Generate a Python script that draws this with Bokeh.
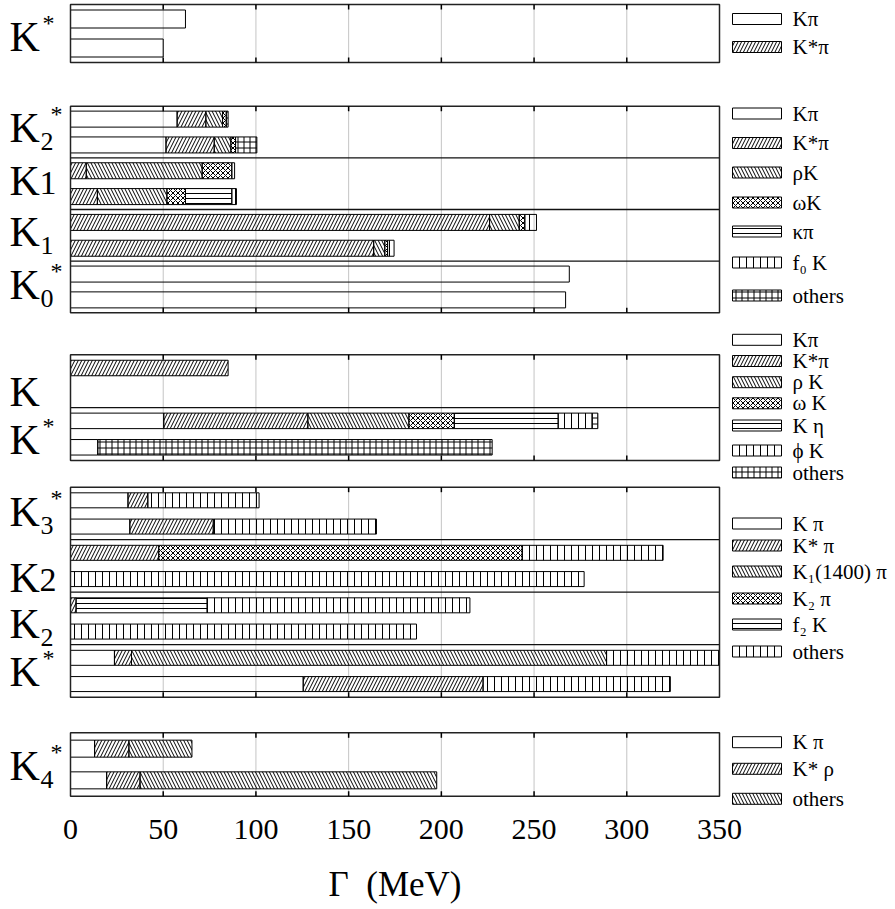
from bokeh.plotting import figure
from bokeh.layouts import column
from bokeh.models import Range1d, FixedTicker, ColumnDataSource
from bokeh.core.properties import value
from bokeh.embed import file_html
from bokeh.resources import INLINE

# ------------------------------------------------------------------ data
x_ticks = [0, 50, 100, 150, 200, 250, 300, 350]
x_title = "Γ\u00a0\u00a0(MeV)"

# Panel 1 : K*  (two bars, top to bottom)
p1_names   = ["Kπ", "K*π"]
p1_kpi     = [62, 50]
p1_kstarpi = [0, 0]

# Panel 2 : K2*, K1, K1, K0*  (eight bars, top to bottom)
p2_names   = ["Kπ", "K*π", "ρK", "ωK", "κπ", "f₀ K", "others"]
p2_kpi     = [57.5, 51.5, 0, 0, 0, 0, 269, 267]
p2_kstarpi = [15.5, 26, 8.5, 14.5, 226, 163.5, 0, 0]
p2_rhok    = [9, 9, 62.5, 37.5, 16, 6, 0, 0]
p2_omegak  = [2, 2.5, 16, 10, 3, 1.5, 0, 0]
p2_kappapi = [0, 0, 0, 25, 0, 0, 0, 0]
p2_f0k     = [0, 0, 1.5, 2.5, 6.3, 3.5, 0, 0]
p2_others  = [1, 11.5, 0, 0, 0, 0, 0, 0]

# Panel 3 : K, K*  (four bars)
p3_names   = ["Kπ", "K*π", "ρ K", "ω K", "K η", "ϕ K", "others"]
p3_kpi     = [0, 0, 50.3, 14.7]
p3_kstarpi = [85, 0, 77.7, 0]
p3_rhok    = [0, 0, 54.5, 0]
p3_omegak  = [0, 0, 24.5, 0]
p3_keta    = [0, 0, 56, 0]
p3_phik    = [0, 0, 18.3, 0]
p3_others  = [0, 0, 3.1, 212.7]

# Panel 4 : K3*, K2, K2, K*  (eight bars)
p4_names   = ["K π", "K* π", "K₁(1400) π", "K₂ π", "f₂ K", "others"]
p4_kpi     = [31, 32, 0, 0, 0, 0, 23.7, 125.5]
p4_kstarpi = [10.7, 45, 47.6, 0, 3, 0, 9.2, 97]
p4_k1pi    = [0, 0, 0, 0, 0, 0, 256.2, 0]
p4_k2pi    = [0, 0, 196, 0, 0, 0, 0, 0]
p4_f2k     = [0, 0, 0, 0, 70.7, 0, 0, 0]
p4_others  = [60, 88, 76, 277, 141.7, 186.6, 60.9, 101]

# Panel 5 : K4*  (two bars)
p5_names   = ["K π", "K* ρ", "others"]
p5_kpi     = [13, 19.5]
p5_kstarrho = [18.5, 18]
p5_others  = [34, 160]

# ------------------------------------------------------------------ layout / style
FONT = "Liberation Serif"
KPX = 649 / 350.0            # pixels per MeV


def wx(px):
    return (px - 70) / KPX


H_BLANK = dict(hatch_pattern=" ")
H_FWD = dict(hatch_pattern="/", hatch_scale=7)
H_BCK = dict(hatch_pattern="\\", hatch_scale=7)
H_XX = dict(hatch_pattern="x", hatch_scale=5)
H_HOR = dict(hatch_pattern="-", hatch_scale=5)
H_VER = dict(hatch_pattern="|", hatch_scale=7)
H_GRID = dict(hatch_pattern="+", hatch_scale=6)

panels = [
    dict(top=4, bottom=62, ngroups=1, bar_h=18,
         series=[p1_kpi, p1_kstarpi], names=p1_names,
         hatches=[H_BLANK, H_FWD], leg_y=[18.5, 46.5]),
    dict(top=105.7, bottom=312.3, ngroups=4, bar_h=16,
         series=[p2_kpi, p2_kstarpi, p2_rhok, p2_omegak, p2_kappapi, p2_f0k, p2_others],
         names=p2_names,
         hatches=[H_BLANK, H_FWD, H_BCK, H_XX, H_HOR, H_VER, H_GRID],
         leg_y=[113, 142.5, 172, 202, 231, 262, 295]),
    dict(top=354.3, bottom=460, ngroups=2, bar_h=15.5,
         series=[p3_kpi, p3_kstarpi, p3_rhok, p3_omegak, p3_keta, p3_phik, p3_others],
         names=p3_names,
         hatches=[H_BLANK, H_FWD, H_BCK, H_XX, H_HOR, H_VER, H_GRID],
         leg_y=[339.3, 360.5, 381.7, 402.8, 425, 450, 472]),
    dict(top=486.7, bottom=696.7, ngroups=4, bar_h=15,
         series=[p4_kpi, p4_kstarpi, p4_k1pi, p4_k2pi, p4_f2k, p4_others],
         names=p4_names,
         hatches=[H_BLANK, H_FWD, H_BCK, H_XX, H_HOR, H_VER],
         leg_y=[523, 545, 571, 598, 624, 651]),
    dict(top=732.3, bottom=795.7, ngroups=1, bar_h=17,
         series=[p5_kpi, p5_kstarrho, p5_others], names=p5_names,
         hatches=[H_BLANK, H_FWD, H_BCK], leg_y=[741.7, 768.3, 798.3]),
]

# row labels: (main, digit, digit mode, star, centre y of "K")
row_labels = [
    ("K", "", None, True, 36),
    ("K", "2", "sub", True, 127),
    ("K", "1", "inline", False, 180),
    ("K", "1", "sub", False, 231),
    ("K", "0", "sub", True, 284),
    ("K", "", None, False, 391),
    ("K", "", None, True, 439),
    ("K", "3", "sub", True, 511),
    ("K", "2", "inline", False, 577),
    ("K", "2", "sub", False, 623),
    ("K", "", None, True, 671),
    ("K", "4", "sub", True, 765),
]
LBL_X = 9

W = 895
FRAME_BOTTOM = 809          # bottom of the main plotting frame
AXIS_H = 46                 # room for the tick labels below the frame
TOTAL_H = 905

x_range = Range1d(wx(0), wx(W))

p = figure(width=W, height=FRAME_BOTTOM + AXIS_H,
           x_range=x_range, y_range=Range1d(FRAME_BOTTOM, 0),
           output_backend="svg", toolbar_location=None,
           y_axis_location=None,
           min_border_left=0, min_border_right=0, min_border_top=0,
           min_border_bottom=AXIS_H)
p.outline_line_color = None
p.xgrid.visible = False
p.ygrid.visible = False
p.background_fill_color = "white"

ax = p.xaxis[0]
ax.ticker = FixedTicker(ticks=x_ticks)
ax.axis_line_color = None
ax.major_tick_line_color = None
ax.minor_tick_line_color = None
ax.major_label_text_font = FONT
ax.major_label_text_font_size = "30px"
ax.major_label_text_color = "black"
ax.major_label_standoff = 4

inner_ticks = x_ticks[1:-1]
xmin, xmax = x_ticks[0], x_ticks[-1]

for pan in panels:
    top, bot, ng = pan["top"], pan["bottom"], pan["ngroups"]
    gh = (bot - top) / ng
    # grid lines
    p.segment(x0=inner_ticks, x1=inner_ticks, y0=[top] * len(inner_ticks),
              y1=[bot] * len(inner_ticks), line_color="#c4c4c4", line_width=1)
    nbars = len(pan["series"][0])
    ys = []
    for b in range(nbars):
        g, j = divmod(b, 2)
        ys.append(top + g * gh + gh * (0.25 + 0.5 * j))
    left = [0.0] * nbars
    for vals, hatch in zip(pan["series"], pan["hatches"]):
        right = [l + v for l, v in zip(left, vals)]
        keep = [i for i in range(nbars) if vals[i] > 0]
        if keep:
            src = ColumnDataSource(dict(y=[ys[i] for i in keep],
                                        left=[left[i] for i in keep],
                                        right=[min(right[i], xmax) for i in keep]))
            p.hbar(y="y", left="left", right="right", height=pan["bar_h"], source=src,
                   fill_color="white", fill_alpha=0.0, line_color="black",
                   line_width=1, hatch_color="black", hatch_weight=1, **hatch)
        left = right
    # dividers between groups
    if ng > 1:
        dy = [top + gh * k for k in range(1, ng)]
        p.segment(x0=[xmin] * len(dy), x1=[xmax] * len(dy), y0=dy, y1=dy,
                  line_color="#111111", line_width=1.3)
    # frame
    p.quad(left=[xmin], right=[xmax], top=[top], bottom=[bot], fill_color=None,
           line_color="#222222", line_width=1.5)
    # inner tick marks
    p.segment(x0=inner_ticks, x1=inner_ticks, y0=[top] * len(inner_ticks),
              y1=[top + 5] * len(inner_ticks), line_color="black", line_width=1.5)
    p.segment(x0=inner_ticks, x1=inner_ticks, y0=[bot - 5] * len(inner_ticks),
              y1=[bot] * len(inner_ticks), line_color="black", line_width=1.5)
    # legend
    for name, hatch, ly in zip(pan["names"], pan["hatches"], pan["leg_y"]):
        p.rect(x=[(wx(732) + wx(781)) / 2], y=[ly], width=wx(781) - wx(732), height=11,
               fill_color="white", line_color="black", line_width=1,
               hatch_color="black", hatch_weight=1, **hatch)
        p.text(x=[wx(792)], y=[ly], text=[name], text_font=value(FONT),
               text_font_size=value("21px"), text_baseline="middle",
               text_align="left", text_color="black")

# row labels on the left (all centred vertically with baseline "middle")
for main, digit, mode, star, cy in row_labels:
    p.text(x=[wx(LBL_X)], y=[cy], text=[main], text_font=value(FONT),
           text_font_size=value("42px"), text_baseline="middle", text_color="black")
    if digit:
        if mode == "sub":
            p.text(x=[wx(LBL_X + 31)], y=[cy + 14], text=[digit], text_font=value(FONT),
                   text_font_size=value("26px"), text_baseline="middle",
                   text_color="black")
        else:
            p.text(x=[wx(LBL_X + 30)], y=[cy + 2.5], text=[digit], text_font=value(FONT),
                   text_font_size=value("34px"), text_baseline="middle",
                   text_color="black")
    if star:
        sx = LBL_X + (41 if digit else 33)
        p.text(x=[wx(sx)], y=[cy - 14], text=["*"], text_font=value(FONT),
               text_font_size=value("24px"), text_baseline="middle",
               text_color="black")

# ---- strip below the axis that carries the axis title, sharing the x scale
top2 = FRAME_BOTTOM + AXIS_H
pt = figure(width=W, height=TOTAL_H - top2, x_range=x_range,
            y_range=Range1d(TOTAL_H, top2),
            output_backend="svg", toolbar_location=None,
            x_axis_location=None, y_axis_location=None,
            min_border_left=0, min_border_right=0, min_border_top=0,
            min_border_bottom=0)
pt.outline_line_color = None
pt.xgrid.visible = False
pt.ygrid.visible = False
pt.text(x=[(xmin + xmax) / 2], y=[884], text=[x_title], text_font=value(FONT),
        text_font_size=value("35px"), text_align="center", text_baseline="middle",
        text_color="black")

layout = column(p, pt, spacing=0)
open("out.html", "w").write(file_html(layout, INLINE))
